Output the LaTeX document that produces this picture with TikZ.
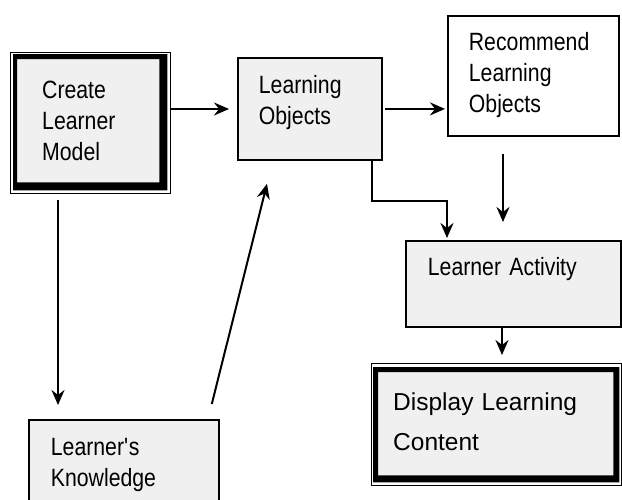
\documentclass[tikz,border=0pt]{standalone}
\definecolor{boxgray}{HTML}{F0F0F0}
\usepackage{fontspec}
\setmainfont{Liberation Sans}[FakeStretch=0.85]
\newfontfamily\dispfont{Liberation Sans}
\usepackage{tikz}
\usetikzlibrary{arrows.meta}
\usetikzlibrary{calc}

\begin{document}
\begin{tikzpicture}[x=1pt,y=-1pt,
	plainbox/.style={draw, line width=1.8pt, rectangle, anchor=north west, inner ysep=0pt, align=left, font=\fontsize{25}{31}\selectfont},
	graybox/.style={plainbox, fill=boxgray},
	heavybox/.style={rectangle, anchor=north west, inner ysep=0pt, align=left, fill=boxgray},
	arr/.style={line width=2pt, -{Stealth[length=15pt,width=13pt,inset=5pt]}}]
	\clip (0,0) rectangle (622,499);
	\fill[white] (0,0) rectangle (622,499);
	\node[heavybox, font=\fontsize{25}{31}\selectfont, inner xsep=25pt, text width=92pt, text height=39pt, text depth=84pt] (cm) at (17,59) {Create\\Learner\\Model};
	\node[graybox, inner xsep=21pt, text width=102pt, text height=36pt, text depth=66pt] (lo) at (237,57) {Learning\\Objects};
	\node[plainbox, fill=white, inner xsep=21pt, text width=129pt, text height=35pt, text depth=85pt] (rec) at (447,15) {Recommend\\Learning\\Objects};
	\node[graybox, inner xsep=22pt, text width=171pt, text height=35pt, text depth=51pt] (la) at (405,240) {Learner Activity};
	\node[graybox, inner xsep=22pt, text width=146pt, text height=36pt, text depth=60pt] (lk) at (28,419) {Learner\textquotesingle s\\Knowledge};
	\node[heavybox, font=\dispfont\fontsize{24.5}{40}\selectfont, inner xsep=15pt, text width=205pt, text height=38pt, text depth=65pt] (disp) at (378,372) {Display Learning\\Content};
	%frames
	\fill[black, even odd rule] ($(cm.north west)+(-4,-5)$) rectangle ($(cm.south east)+(8,8)$) (cm.north west) rectangle (cm.south east);
	\draw[line width=1pt] ($(cm.north west)+(-7,-7)$) rectangle ($(cm.south east)+(11,11)$);
	\fill[black, even odd rule] ($(disp.north west)+(-5,-5)$) rectangle ($(disp.south east)+(6,7)$) (disp.north west) rectangle (disp.south east);
	\draw[line width=1pt] ($(disp.north west)+(-7,-9)$) rectangle ($(disp.south east)+(8,10)$);
	%arrows
	\coordinate (cmout) at ($(cm.north east)+(11,50)$);
	\draw[arr, shorten >=8pt] (cmout) -- (cmout -| lo.west);
	\draw[arr, shorten <=2pt, shorten >=2pt] (lo.east) -- (lo.east -| rec.west);
	\coordinate (recdown) at ($(rec.south west)+(56,0)$);
	\draw[arr, shorten <=17pt, shorten >=18pt] (recdown) -- (recdown |- la.north);
	\coordinate (lodown) at ($(lo.south east)+(-11,0)$);
	\draw[arr, shorten >=2pt] (lodown) -- ++(0,40) -| ($(la.north west)+(42,0)$);
	\coordinate (ladown) at ($(la.south west)+(97,0)$);
	\draw[arr, shorten >=17pt] (ladown) -- (ladown |- disp.north);
	\coordinate (cmdown) at ($(cm.south west)+(41,0)$);
	\draw[arr, shorten <=18pt, shorten >=14pt] (cmdown) -- (cmdown |- lk.north);
	\draw[arr] ($(lk.north east)+(-8,-15)$) -- ($(lo.south west)+(30,23)$);
\end{tikzpicture}
\end{document}
